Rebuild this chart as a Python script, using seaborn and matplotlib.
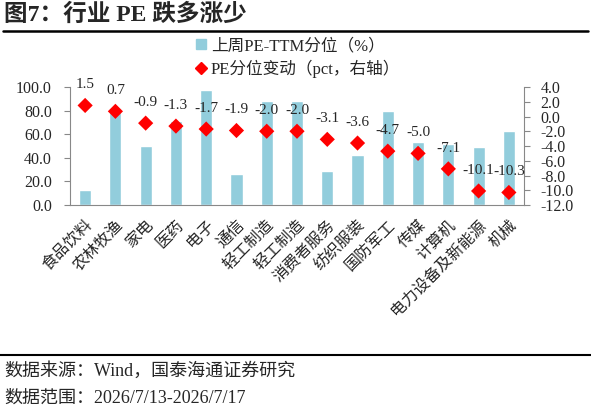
import numpy as np
import matplotlib
matplotlib.use('Agg')
import matplotlib.pyplot as plt
import seaborn as sns
from matplotlib.lines import Line2D

# industries (轻工制造 appears twice in the source chart)
industries = ['食品饮料', '农林牧渔', '家电', '医药', '电子', '通信', '轻工制造', '轻工制造',
              '消费者服务', '纺织服装', '国防军工', '传媒', '计算机', '电力设备及新能源', '机械']
pe_pct = [12.5, 82.5, 50.0, 71.0, 97.5, 26.0, 88.0, 88.0, 29.0, 42.5, 80.0, 53.0, 52.0, 49.0, 63.0]
pe_change = [1.5, 0.7, -0.9, -1.3, -1.7, -1.9, -2.0, -2.0, -3.1, -3.6, -4.7, -5.0, -7.1, -10.1, -10.3]
left_ticks = [0, 20, 40, 60, 80, 100]
right_ticks = [-12, -10, -8, -6, -4, -2, 0, 2, 4]

sns.set_style('white')
fonts = ['Liberation Serif', 'Noto Sans CJK SC', 'DejaVu Sans']
plt.rcParams['font.family'] = fonts
plt.rcParams['axes.unicode_minus'] = False

bar_color = '#92CDDC'
spine_color = '#888888'

fig = plt.figure(figsize=(5.91, 4.13), dpi=100)
ax = fig.add_axes([70 / 591, 1 - 205 / 413, 454 / 591, 118 / 413])
pos = np.arange(len(industries))

sns.barplot(x=pos, y=pe_pct, ax=ax, color=bar_color, width=0.4, saturation=1)
ax.set_xlim(-0.5, len(industries) - 0.5)
ax.set_ylim(0, 100)
ax.set_yticks(left_ticks)
ax.set_yticklabels([f'{v:.1f}' for v in left_ticks], fontsize=11.5)

# ticks between categories, labels at centers
ax.set_xticks(np.arange(-0.5, len(industries), 1.0))
ax.set_xticklabels([])
ax.set_xticks(pos, minor=True)
ax.set_xticklabels(industries, minor=True, rotation=45, ha='right', va='top',
                   rotation_mode='anchor', fontsize=11.5)
ax.tick_params(axis='x', which='minor', length=0, pad=9)
ax.tick_params(axis='x', which='major', length=4, color=spine_color, direction='out')
ax.tick_params(axis='y', length=4, color=spine_color, direction='out', pad=9)
for s in ['top', 'right']:
    ax.spines[s].set_visible(False)
for s in ['left', 'bottom']:
    ax.spines[s].set_color(spine_color)
ax.set_xlabel('')

ax2 = ax.twinx()
sns.scatterplot(x=pos, y=pe_change, ax=ax2, marker='D', color='#FF0000', s=60,
                edgecolor='none', zorder=3)
ax2.set_ylim(-12, 4)
ax2.set_yticks(right_ticks)
ax2.set_yticklabels([f'{v:.1f}' for v in right_ticks], fontsize=11.5)
ax2.tick_params(axis='y', length=4, color=spine_color, direction='out', pad=8)
for s in ['top', 'left', 'bottom']:
    ax2.spines[s].set_visible(False)
ax2.spines['right'].set_color(spine_color)

for x, v in zip(pos, pe_change):
    ax2.annotate(f'{v:.1f}', (x, v), xytext=(0, 15), textcoords='offset points',
                 ha='center', va='center', fontsize=11)

handles = [Line2D([], [], marker='s', color=bar_color, linestyle='none', markersize=7),
           Line2D([], [], marker='D', color='#FF0000', linestyle='none', markersize=6)]
fig.legend(handles, ['上周PE-TTM分位（%）', 'PE分位变动（pct，右轴）'],
           loc='upper left', bbox_to_anchor=(196 / 591, 1 - 38 / 413), frameon=False,
           fontsize=12, handlelength=0.6, handletextpad=0.3, labelspacing=0.35,
           borderaxespad=0, borderpad=0)

fig.text(4 / 591, 1 - 15 / 413, '图7：行业 PE 跌多涨少', fontsize=17, fontweight='bold',
         va='center', ha='left')
fig.add_artist(Line2D([3 / 591, 588 / 591], [1 - 31 / 413] * 2, color='black', lw=1.8))
fig.add_artist(Line2D([0, 1], [1 - 355 / 413] * 2, color='black', lw=1.5))
fig.text(4 / 591, 1 - 371 / 413, '数据来源：Wind，国泰海通证券研究', fontsize=13, va='center')
fig.text(4 / 591, 1 - 398 / 413, '数据范围：2026/7/13-2026/7/17', fontsize=13, va='center')

fig.savefig('out.png', dpi=100)
